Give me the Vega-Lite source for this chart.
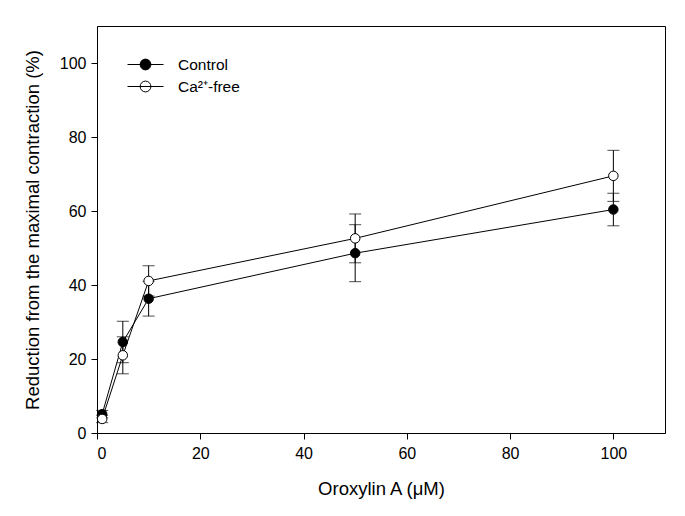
{
  "$schema": "https://vega.github.io/schema/vega-lite/v6.json",
  "width": 568,
  "height": 407,
  "autosize": {"type": "none"},
  "padding": {"left": 97, "top": 26, "right": 20, "bottom": 83},
  "background": "white",
  "config": {
    "font": "Liberation Sans",
    "view": {"stroke": "black", "strokeWidth": 1},
    "axis": {
      "grid": false,
      "domainColor": "black",
      "domainWidth": 1,
      "tickColor": "black",
      "tickSize": 6,
      "tickWidth": 1,
      "labelColor": "black",
      "labelFontSize": 16,
      "labelPadding": 5,
      "titleColor": "black",
      "titleFontSize": 18.5,
      "titleFontWeight": "normal"
    },
    "legend": {
      "padding": 0,
      "labelFontSize": 15.5,
      "labelColor": "black",
      "symbolType": "M-2,0H2M0.6,0A0.6,0.6 0 1 1 -0.6,0A0.6,0.6 0 1 1 0.6,0Z",
      "symbolSize": 324,
      "symbolStrokeColor": "black",
      "symbolStrokeWidth": 1,
      "labelOffset": 23,
      "rowPadding": 4
    }
  },
  "data": {
    "values": [
      {"series": "Control", "x": 1, "y": 5.1, "lo": 4.1, "hi": 6.1},
      {"series": "Control", "x": 5, "y": 24.6, "lo": 19.0, "hi": 30.2},
      {"series": "Control", "x": 10, "y": 36.3, "lo": 31.6, "hi": 41.0},
      {"series": "Control", "x": 50, "y": 48.6, "lo": 40.9, "hi": 56.3},
      {"series": "Control", "x": 100, "y": 60.4, "lo": 56.0, "hi": 64.8},
      {"series": "Ca²⁺-free", "x": 1, "y": 3.8, "lo": 2.8, "hi": 4.8},
      {"series": "Ca²⁺-free", "x": 5, "y": 21.0, "lo": 16.0, "hi": 26.0},
      {"series": "Ca²⁺-free", "x": 10, "y": 41.1, "lo": 37.0, "hi": 45.2},
      {"series": "Ca²⁺-free", "x": 50, "y": 52.6, "lo": 46.0, "hi": 59.2},
      {"series": "Ca²⁺-free", "x": 100, "y": 69.5, "lo": 62.6, "hi": 76.4}
    ]
  },
  "encoding": {
    "x": {
      "field": "x",
      "type": "quantitative",
      "scale": {"domain": [0, 110], "nice": false},
      "axis": {"title": "Oroxylin A (μM)", "values": [0, 20, 40, 60, 80, 100], "titlePadding": 18, "labelPadding": 6}
    }
  },
  "layer": [
    {
      "mark": {"type": "rule", "color": "black", "strokeWidth": 1},
      "encoding": {
        "y": {
          "field": "lo",
          "type": "quantitative",
          "scale": {"domain": [0, 110], "nice": false},
          "axis": {"title": "Reduction from the maximal contraction (%)", "values": [0, 20, 40, 60, 80, 100], "titlePadding": 17}
        },
        "y2": {"field": "hi"}
      }
    },
    {
      "mark": {"type": "tick", "orient": "horizontal", "color": "black", "size": 12, "thickness": 1},
      "encoding": {"y": {"field": "lo", "type": "quantitative"}}
    },
    {
      "mark": {"type": "tick", "orient": "horizontal", "color": "black", "size": 12, "thickness": 1},
      "encoding": {"y": {"field": "hi", "type": "quantitative"}}
    },
    {
      "mark": {"type": "line", "color": "black", "strokeWidth": 1},
      "encoding": {
        "y": {"field": "y", "type": "quantitative"},
        "detail": {"field": "series", "type": "nominal"}
      }
    },
    {
      "mark": {"type": "point", "shape": "circle", "size": 90, "stroke": "black", "strokeWidth": 1, "opacity": 1, "filled": false},
      "encoding": {
        "y": {"field": "y", "type": "quantitative"},
        "fill": {
          "field": "series",
          "type": "nominal",
          "scale": {"domain": ["Control", "Ca²⁺-free"], "range": ["black", "white"]},
          "legend": {"title": null, "orient": "none", "legendX": 39, "legendY": 29}
        }
      }
    }
  ]
}
